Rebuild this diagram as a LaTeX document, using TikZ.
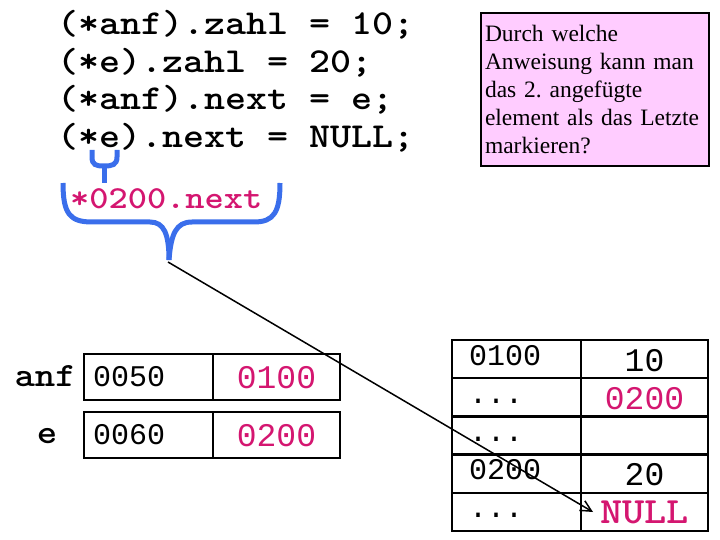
\documentclass[tikz,border=0pt]{standalone}
\usepackage{fontspec}
\usepackage{graphicx}
\usepackage{xcolor}
\usetikzlibrary{arrows.meta,positioning}
\newfontfamily\cellfont{Liberation Mono}
\newfontfamily\notefont{Liberation Serif}
\definecolor{ptrred}{RGB}{212,22,112}
\definecolor{braceblue}{RGB}{58,110,235}
\definecolor{notepink}{RGB}{255,204,255}
% Courier-like bold text: LM Mono widened to Courier widths
\newcommand{\cmono}[2]{\scalebox{1.143}[1]{\fontsize{#1}{#1}\selectfont\ttfamily\bfseries #2}}
\newcommand{\cdig}[1]{\fontsize{#1}{#1}\selectfont\cellfont}
\frenchspacing

\begin{document}
\begin{tikzpicture}[x=1pt,y=-1pt,>={Straight Barb[length=11pt,width=11pt]},
  codeline/.style={anchor=base west,inner sep=0pt},
  brace/.style={draw=braceblue,line width=5pt},
  cell/.style={draw,line width=2.5pt,inner sep=0pt,outer sep=0pt},
  addrbox/.style={cell,minimum width=129pt,minimum height=46pt,text width=111pt,align=left,
    inner xsep=9pt,text height=19pt,text depth=1pt,font=\cdig{30pt}},
  valbox/.style={cell,minimum width=127pt,minimum height=46pt,align=center,
    text height=22pt,text depth=0pt,font=\cdig{33pt},text=ptrred},
  memaddr/.style={cell,minimum width=129pt,minimum height=38.2pt,text width=95pt,align=left,
    inner xsep=17pt,text height=16pt,text depth=4.2pt,font=\cdig{30pt}},
  memval/.style={cell,minimum width=127pt,minimum height=38.2pt,align=center,
    text height=24pt,text depth=0.2pt,font=\cdig{33pt}},
  note/.style={draw,line width=2pt,fill=notepink,anchor=north west,inner xsep=4pt,inner ysep=0pt,
    minimum height=153pt,text width=220pt,align=left,
    font=\notefont\fontsize{23.5pt}{28pt}\selectfont}]
\useasboundingbox (0,0) rectangle (720,540);

% code lines
\node[codeline] (line1) at (57,35) {\cmono{35pt}{(*anf).zahl = 10;}};
\node[codeline] (line2) at (57,73) {\cmono{35pt}{(*e).zahl = 20;}};
\node[codeline] (line3) at (57,110) {\cmono{35pt}{(*anf).next = e;}};
\node[codeline] (line4) at (57,148) {\cmono{35pt}{(*e).next = NULL;}};

% question
\node[note] (question) at (480,12) {Durch welche\\Anweisung kann man\\das 2. angefügte\\element als das Letzte\\markieren?};

% braces
\draw[brace] (92,150) -- (92,157) .. controls (92,165) and (96,166) .. (104,166)
  .. controls (112,166) and (117,165) .. (117,157) -- (117,150);
\draw[brace] (104,166) -- (104,183);
\node[codeline,text=ptrred] (deref) at (70,208) {\cmono{32pt}{*0200.next}};
\draw[brace] (63,183) .. controls (63,214) and (70,222) .. (92,222) -- (150,222)
  .. controls (164,222) and (169,234) .. (169,260);
\draw[brace] (169,260) .. controls (171,234) and (176,222) .. (192,222) -- (254,222)
  .. controls (274,222) and (280,212) .. (280,183);
\coordinate (bracetip) at (168,262);

% pointer variables
\node[addrbox,anchor=north west] (anfaddr) at (84,354) {0050};
\node[valbox,right=0pt of anfaddr] (anfval) {0100};
\node[addrbox,anchor=north west] (eaddr) at (84,412) {0060};
\node[valbox,right=0pt of eaddr] (eval) {0200};
\node[anchor=base east,inner sep=0pt] (anflbl) at (76,386) {\cmono{34pt}{anf}};
\node[anchor=base,inner sep=0pt] (elbl) at (47,443) {\cmono{34pt}{e}};

% heap
\node[memaddr,anchor=north west] (m1) at (452,340) {0100};
\node[memaddr,below=0pt of m1] (m2) {...};
\node[memaddr,below=0pt of m2] (m3) {...};
\node[memaddr,below=0pt of m3] (m4) {0200};
\node[memaddr,below=0pt of m4] (m5) {...};
\node[memval,right=0pt of m1] (v1) {10};
\node[memval,right=0pt of m2,text=ptrred] (v2) {0200};
\node[memval,right=0pt of m3] (v3) {};
\node[memval,right=0pt of m4] (v4) {20};
\node[memval,right=0pt of m5,text=ptrred] (v5) {\cmono{37pt}{NULL}};

\coordinate (arrowend) at (593,512);
\draw[->,line width=1.5pt] (bracetip) -- (arrowend);
\end{tikzpicture}
\end{document}
